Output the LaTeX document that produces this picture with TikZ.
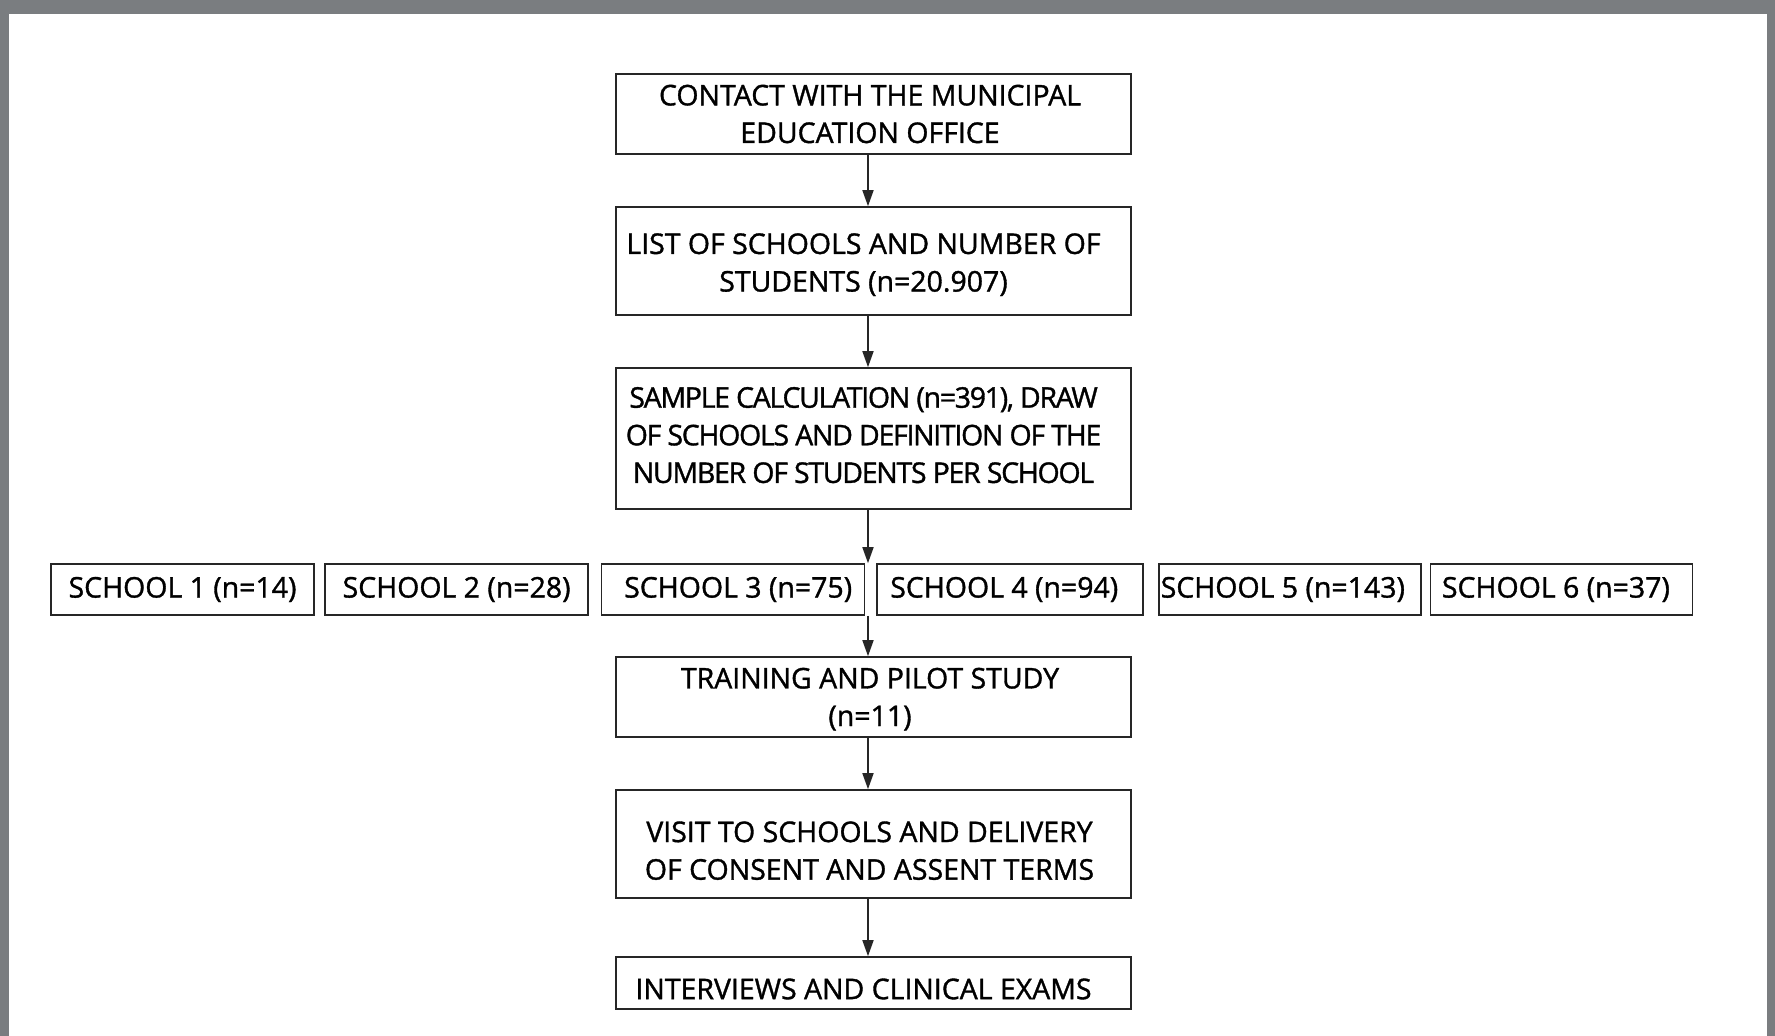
\documentclass[tikz,border=0pt]{standalone}
\usepackage{fontspec}
\setmainfont{Open Sans}[FakeBold=1.2]
\usetikzlibrary{arrows.meta,positioning}
\definecolor{framegray}{RGB}{122,125,128}
\newcommand{\nudge}[1][2mm]{\hspace*{-#1}}

\begin{document}
\begin{tikzpicture}[x=0.1mm,y=-0.1mm,
block/.style={draw=black!85,rectangle,line width=0.45pt,minimum width=51.5mm,align=center,inner sep=0pt,font=\fontsize{8.1}{10.7}\selectfont},
school/.style={draw=black!85,rectangle,line width=0.45pt,minimum width=26.3mm,minimum height=5.1mm,inner sep=0pt,node distance=0.95mm,font=\fontsize{8.1}{10.7}\selectfont},
arr/.style={draw=black!85,line width=0.45pt,-{Triangle[length=1.6mm,width=1.1mm]}}]

        % page frame
        \fill[framegray] (0,0) rectangle (1775,1036);
        \fill[white] (9,14) rectangle (1767,1036);
        \useasboundingbox (0,0) rectangle (1775,1036);

        \node [block, minimum height=8mm] (contact) at (873.5,114) {\nudge[0.7mm]CONTACT WITH THE MUNICIPAL\\\nudge[0.7mm]EDUCATION OFFICE};
        \node [block, minimum height=10.8mm] (list) at (873.5,261) {\nudge\rule{0pt}{2.8mm}LIST OF SCHOOLS AND NUMBER OF\\\nudge STUDENTS (n=20.907)};
        \node [block, minimum height=14.1mm, font=\fontsize{8.1}{10.7}\selectfont\addfontfeature{LetterSpace=-4.5}] (sample) at (873.5,438.5) {\nudge SAMPLE CALCULATION (n=391), DRAW\\\nudge OF SCHOOLS AND DEFINITION OF THE\\\nudge NUMBER OF STUDENTS PER SCHOOL\rule[-0.7mm]{0pt}{0.7mm}};

        \node [school] (s1) at (182.5,589.5) {SCHOOL 1 (n=14)};
        \node [school, right = of s1] (s2) {SCHOOL 2 (n=28)};
        \node [school, right = 1.2mm of s2] (s3) {\hspace*{1mm}SCHOOL 3 (n=75)};
        \node [school, minimum width=26.6mm, right = 1.05mm of s3] (s4) {\hspace*{-1.1mm}SCHOOL 4 (n=94)};
        \node [school, minimum width=26.2mm, right = 1.45mm of s4] (s5) {\hspace*{-1.4mm}SCHOOL 5 (n=143)};
        \node [school, minimum width=26.2mm, right = 0.8mm of s5] (s6) {\hspace*{-1.1mm}SCHOOL 6 (n=37)};

        \node [block, minimum height=8mm] (pilot) at (873.5,697) {\nudge[0.7mm]\rule{0pt}{2.5mm}TRAINING AND PILOT STUDY\\\nudge[0.7mm](n=11)};
        \node [block, minimum height=10.8mm] (visit) at (873.5,844) {\nudge[0.8mm]\rule{0pt}{3.4mm}VISIT TO SCHOOLS AND DELIVERY\\\nudge[0.8mm]OF CONSENT AND ASSENT TERMS};
        \node [block, minimum height=5.2mm] (exams) at (873.5,983) {\nudge\raisebox{-0.6mm}[\height][\depth]{INTERVIEWS AND CLINICAL EXAMS}};

        \draw[arr] ([xshift=-0.55mm]contact.south) -- ([xshift=-0.55mm]list.north);
        \draw[arr] ([xshift=-0.55mm]list.south) -- ([xshift=-0.55mm]sample.north);
        \draw[arr] ([xshift=-0.55mm]sample.south) -- ([xshift=-0.55mm]sample.south |- s3.north);
        \draw[arr] ([xshift=-0.55mm]pilot.north |- s3.south) -- ([xshift=-0.55mm]pilot.north);
        \draw[arr] ([xshift=-0.55mm]pilot.south) -- ([xshift=-0.55mm]visit.north);
        \draw[arr] ([xshift=-0.55mm]visit.south) -- ([xshift=-0.55mm]exams.north);
    \end{tikzpicture}
\end{document}
